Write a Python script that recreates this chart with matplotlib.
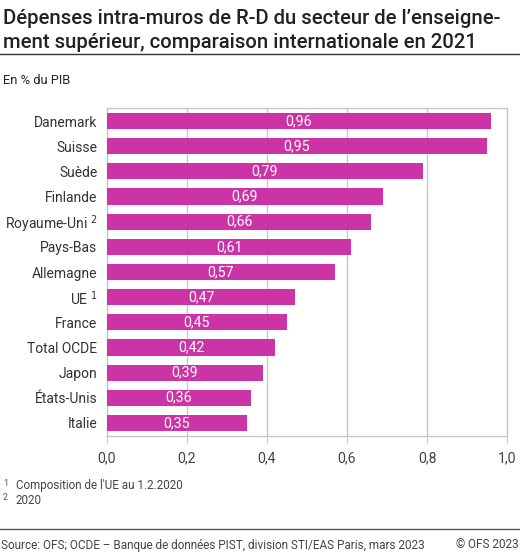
import numpy as np
import matplotlib.pyplot as plt

plt.rcParams['font.family'] = ['Roboto', 'DejaVu Sans']

pays = ['Danemark', 'Suisse', 'Suède', 'Finlande', 'Royaume-Uni $^{2}$', 'Pays-Bas',
        'Allemagne', 'UE $^{1}$', 'France', 'Total OCDE', 'Japon', 'États-Unis', 'Italie']
valeurs = [0.96, 0.95, 0.79, 0.69, 0.66, 0.61, 0.57, 0.47, 0.45, 0.42, 0.39, 0.36, 0.35]
ticks = [0.0, 0.2, 0.4, 0.6, 0.8, 1.0]

couleur = '#cc33a6'
gris = '#c8c8c8'

fig = plt.figure(figsize=(5.2, 5.53), dpi=100)
W, H = 520, 553
ax = fig.add_axes([107 / W, 1 - 436 / H, 400 / W, 328 / H])

y = np.arange(len(pays))
ax.barh(y, valeurs, height=0.64, color=couleur, zorder=3)
for yi, v in zip(y, valeurs):
    ax.text(v / 2, yi, f'{v:.2f}'.replace('.', ','), ha='center', va='center',
            color='white', fontsize=10.2, zorder=4)

ax.set_ylim(len(pays) - 0.48, -0.52)
ax.set_xlim(0, 1.0)
ax.set_yticks(y)
ax.set_yticklabels(pays, fontsize=10, color='#333333')
ax.set_xticks(ticks)
ax.set_xticklabels([f'{t:.1f}'.replace('.', ',') for t in ticks], fontsize=10.2,
                   color='#444444')
ax.tick_params(axis='y', length=0, pad=7)
ax.tick_params(axis='x', length=5, color=gris, pad=6)
ax.grid(axis='x', color=gris, linewidth=1, zorder=0)
for s in ax.spines.values():
    s.set_color(gris)
    s.set_linewidth(1)

fig.text(3 / W, 1 - 18 / H, "Dépenses intra-muros de R-D du secteur de l’enseigne-",
         fontsize=14.6, fontweight='medium', color='#222222', va='center')
fig.text(3 / W, 1 - 43 / H, "ment supérieur, comparaison internationale en 2021",
         fontsize=14.6, fontweight='medium', color='#222222', va='center')
fig.add_artist(plt.Line2D([0, 1], [1 - 54 / H, 1 - 54 / H], color='#333333', linewidth=1))
fig.text(3 / W, 1 - 81 / H, 'En % du PIB', fontsize=9.3, color='#222222', va='center')

fig.text(3 / W, 1 - 483 / H, '1', fontsize=6.3, color='#555555', va='center')
fig.text(16 / W, 1 - 486 / H, "Composition de l'UE au 1.2.2020", fontsize=8.35,
         color='#444444', va='center')
fig.text(3 / W, 1 - 498 / H, '2', fontsize=6.3, color='#555555', va='center')
fig.text(16 / W, 1 - 501 / H, '2020', fontsize=8.35, color='#444444', va='center')

fig.add_artist(plt.Line2D([0, 1], [1 - 529 / H, 1 - 529 / H], color='#555555', linewidth=1))
fig.text(1 / W, 1 - 545 / H, 'Source: OFS; OCDE – Banque de données PIST, division STI/EAS Paris, mars 2023',
         fontsize=8.5, color='#444444', va='center')
fig.text(519 / W, 1 - 545 / H, '© OFS 2023', fontsize=8.5, color='#444444', va='center',
         ha='right')

fig.savefig('out.png', dpi=100)
